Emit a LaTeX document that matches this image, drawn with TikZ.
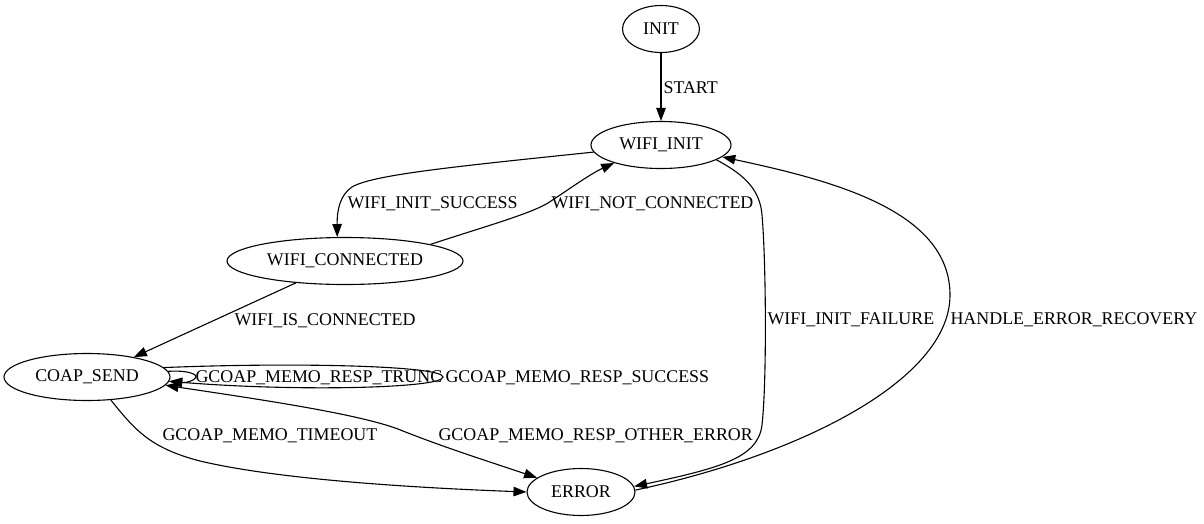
\documentclass[tikz,border=0pt]{standalone}
\usepackage{fontspec}
\setmainfont{Liberation Serif}
\usepackage{tikz}
\usetikzlibrary{arrows.meta,shapes.geometric}
\newcommand{\dotfont}{\fontsize{17.9pt}{21pt}\selectfont}
\tikzset{fsm/.style={draw=black,ellipse,inner sep=0pt,minimum height=47pt,font=\dotfont}}
\tikzset{lbl/.style={inner sep=0pt,anchor=base west,font=\dotfont}}

\begin{document}
\begin{tikzpicture}[x=1pt, y=-1pt, >={Triangle[length=13pt,width=9.5pt]}, line width=1.1pt]
\useasboundingbox (0,0) rectangle (1204,523);
    \node[fsm,minimum width=77pt] (init) at (661,29) {INIT};
    \node[fsm,minimum width=140pt] (wifiinit) at (661,145) {WIFI\_INIT};
    \node[fsm,minimum width=236pt] (wificonn) at (345,261) {WIFI\_CONNECTED};
    \node[fsm,minimum width=166pt] (coapsend) at (87,377) {COAP\_SEND};
    \node[fsm,minimum width=108pt] (error) at (581,492) {ERROR};
    % transitions
    \draw[->] (init) -- (wifiinit);
    \draw[->] (wifiinit.186) .. controls (450,167) and (372,175) .. (352,187) .. controls (340,195) and (337,210) .. (wificonn.108);
    \draw[->] (wificonn.11) .. controls (480,228) and (530,214) .. (548,203) .. controls (565,192) and (590,174) .. (wifiinit.201);
    \draw[->] (wificonn.204) -- (coapsend.23);
    \draw[->] (coapsend.4) .. controls (190,370) and (197,375) .. (196,377) .. controls (195,381) and (185,383) .. (coapsend.357);
    \draw[->] (coapsend.7) .. controls (300,362) and (443,366) .. (443,377) .. controls (443,388) and (300,392) .. (coapsend.357);
    \draw[->] (coapsend.316) .. controls (135,430) and (150,448) .. (200,461) .. controls (280,480) and (420,488) .. (error.west);
    \draw[<->] (coapsend.354) .. controls (250,398) and (355,413) .. (398,429) .. controls (440,446) and (490,462) .. (error.162);
    \draw[->] (wifiinit.345) .. controls (745,175) and (760,190) .. (762,215) .. controls (766,260) and (767,380) .. (762,425) .. controls (758,458) and (720,468) .. (error.6);
    \draw[->] (error.2) .. controls (800,455) and (950,380) .. (950,295) .. controls (950,210) and (830,180) .. (wifiinit.349);
    % labels
    \node[lbl] (lstart) at (663,93) {START};
    \node[lbl] (lsucc) at (347,208) {WIFI\_INIT\_SUCCESS};
    \node[lbl] (lnotconn) at (551,208) {WIFI\_NOT\_CONNECTED};
    \node[lbl] (lisconn) at (234,325) {WIFI\_IS\_CONNECTED};
    \node[lbl] (ltrunc) at (195,382) {GCOAP\_MEMO\_RESP\_TRUNC};
    \node[lbl] (lrespsucc) at (445,382) {GCOAP\_MEMO\_RESP\_SUCCESS};
    \node[lbl] (ltimeout) at (162,440) {GCOAP\_MEMO\_TIMEOUT};
    \node[lbl] (lother) at (438,440) {GCOAP\_MEMO\_RESP\_OTHER\_ERROR};
    \node[lbl] (lfail) at (767,324) {WIFI\_INIT\_FAILURE};
    \node[lbl] (lrecov) at (950,324) {HANDLE\_ERROR\_RECOVERY};
\end{tikzpicture}
\end{document}
